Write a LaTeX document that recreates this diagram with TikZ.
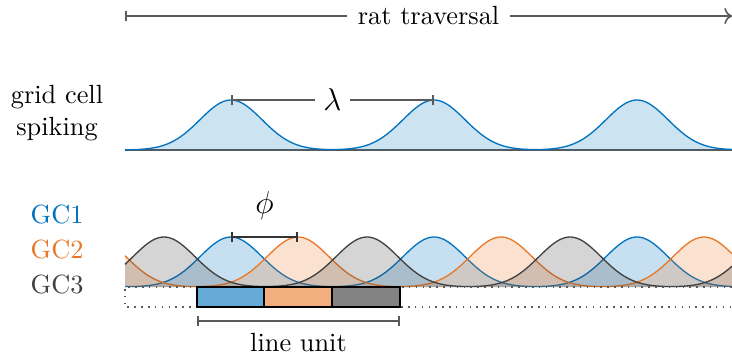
\documentclass[tikz,border=0pt]{standalone}
\usepackage{amsmath,amssymb}
\usepackage{xcolor}
\definecolor{gcblue}{RGB}{0, 114, 189}
\definecolor{gcorange}{RGB}{232, 120, 40}
\definecolor{gcgray}{RGB}{64, 64, 64}
\definecolor{axisgray}{RGB}{90, 90, 90}
\usepackage{tikz}
\usetikzlibrary{arrows.meta, positioning, calc}

\tikzset{
    dimbar/.style={axisgray, line width=0.6pt, {Bar[width=4pt]}-{Bar[width=4pt]}},
    unitbox/.style={draw=black, line width=0.7pt},
}

\begin{document}
\begin{tikzpicture}[x=0.38pt, y=-0.38pt, >=Stealth,
    declare function={bump(\x,\c)=exp(-min(((\x-\c)/31)^2/2,15));
        train(\x,\c)=bump(\x,\c)+bump(\x,\c+203)+bump(\x,\c+406)+bump(\x,\c+609)+bump(\x,\c+812);}]
    \useasboundingbox (0,0) rectangle (732,356);

    \draw[axisgray, line width=0.6pt, {Bar[width=4pt]}-{To}] (125,16) -- (732,16)
        node[midway, fill=white, inner xsep=4pt, text=black] (trav) {rat traversal};

    \node[align=center] (spk) at (57,113) {grid cell\\spiking};
    \draw[axisgray, line width=0.8pt] (125,150) -- (732,150);
    \fill[gcblue, fill opacity=0.2] (125,150) -- plot[domain=125:732, samples=220]
        (\x, {150-50*train(\x,231)}) -- (732,150) -- cycle;
    \draw[gcblue, line width=0.5pt] plot[domain=125:732, samples=220] (\x, {150-50*train(\x,231)});
    \coordinate (pk1) at (231,100);
    \coordinate (pk2) at (434,100);
    \draw[dimbar] (pk1) -- node[fill=white, text=black] (lam) {\large$\lambda$} (pk2);

    \node[text=gcblue] (gc1) at (57,214) {GC1};
    \node[text=gcorange] (gc2) at (57,249) {GC2};
    \node[text=gcgray] (gc3) at (57,284) {GC3};

    \foreach \c/\col in {28/gcblue, 95/gcorange, -39/gcgray}{
        \fill[\col, fill opacity=0.22] (125,287) -- plot[domain=125:732, samples=220]
            (\x, {287-50*train(\x,\c)}) -- (732,287) -- cycle;
        \draw[\col, line width=0.5pt] plot[domain=125:732, samples=220] (\x, {287-50*train(\x,\c)});
    }
    \draw[axisgray, dotted, line width=0.6pt] (732,287) -- (125,287) -- (125,307) -- (732,307);

    \draw[unitbox, fill=gcblue!60] (197,287) rectangle (264,307);
    \draw[unitbox, fill=gcorange!60] (264,287) rectangle (332,307);
    \draw[unitbox, fill=gcgray!65] (332,287) rectangle (400,307);

    \coordinate (ph1) at (231,237);
    \coordinate (ph2) at (298,237);
    \draw[dimbar, black!80] (ph1) -- node[above=3pt, text=black] (phi) {\large$\phi$} (ph2);

    \coordinate (lu1) at (197,321);
    \coordinate (lu2) at (400,321);
    \draw[dimbar] (lu1) -- node[below=1pt, text=black] (lu) {line unit} (lu2);
\end{tikzpicture}
\end{document}
